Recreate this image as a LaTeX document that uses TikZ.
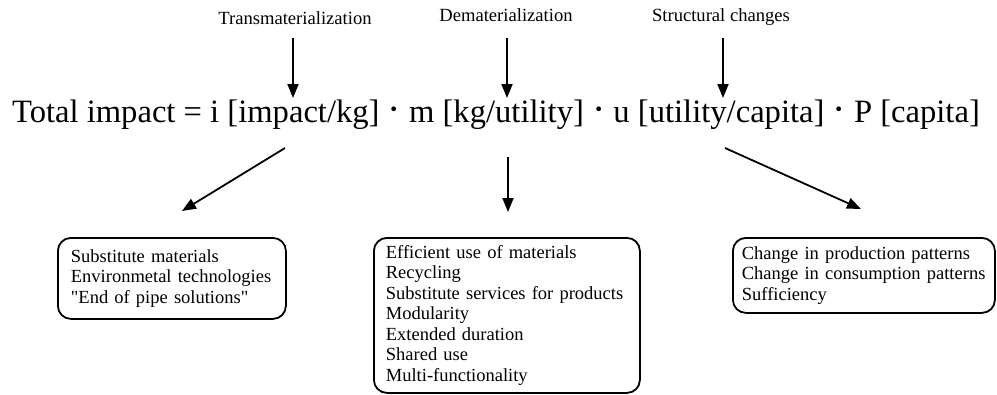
\documentclass[tikz,border=0pt]{standalone}
\usepackage{fontspec}
\setmainfont{Liberation Serif}
\usetikzlibrary{arrows.meta}
\newcommand{\eqdot}{{\fontsize{40}{40}\selectfont·}}
\begin{document}
\begin{tikzpicture}[x=1pt,y=-1pt,
  arr/.style={line width=1.8pt,-{Triangle[length=14pt,width=11pt]}},
  lever/.style={font=\fontsize{18.6}{21}\selectfont, inner sep=0pt, anchor=base},
  box/.style={draw, line width=1.8pt, rounded corners=13pt, anchor=north west,
    align=left, inner ysep=0pt,
    font=\fontsize{18.5}{20.5}\selectfont},
  formula/.style={font=\fontsize{32.6}{36}\selectfont, inner sep=0pt}]
  \useasboundingbox (0,0) rectangle (997,394);

  % three levers on the impact equation
  \node[lever] (trans)  at (295,24) {Transmaterialization};
  \node[lever] (demat)  at (506,21) {Dematerialization};
  \node[lever] (struct) at (721,21) {Structural changes};

  % the impact equation
  \node[formula, anchor=base] (eq) at (496,122)
    {Total impact = i [impact/kg] \eqdot{} m [kg/utility] \eqdot{} u [utility/capita] \eqdot{} P [capita]};

  % arrow end points
  \coordinate (t1) at (293,38);  \coordinate (t2) at (293,98);
  \coordinate (d1) at (507,38);  \coordinate (d2) at (507,98);
  \coordinate (s1) at (723,38);  \coordinate (s2) at (723,98);
  \coordinate (l1) at (285,148); \coordinate (l2) at (182,211);
  \coordinate (m1) at (508,157); \coordinate (m2) at (508,212);
  \coordinate (r1) at (725,148); \coordinate (r2) at (861,209);

  \draw[arr] (t1) -- (t2);
  \draw[arr] (d1) -- (d2);
  \draw[arr] (s1) -- (s2);
  \draw[arr] (l1) -- (l2);
  \draw[arr] (m1) -- (m2);
  \draw[arr] (r1) -- (r2);

  % measure boxes
  \node[box, inner xsep=13pt, minimum width=228pt, minimum height=81pt, text width=202pt] (b1) at (57,237)
    {Substitute materials\\Environmetal technologies\\\textquotedbl End of pipe solutions\textquotedbl};
  \node[box, inner xsep=12pt, minimum width=266pt, minimum height=155pt, text width=242pt] (b2) at (373,237)
    {Efficient use of materials\\Recycling\\Substitute services for products\\Modularity\\Extended duration\\Shared use\\Multi-functionality};
  \node[box, inner xsep=9pt, minimum width=262pt, minimum height=75pt, text width=244pt] (b3) at (732,237)
    {Change in production patterns\\Change in consumption patterns\\Sufficiency};
\end{tikzpicture}
\end{document}
